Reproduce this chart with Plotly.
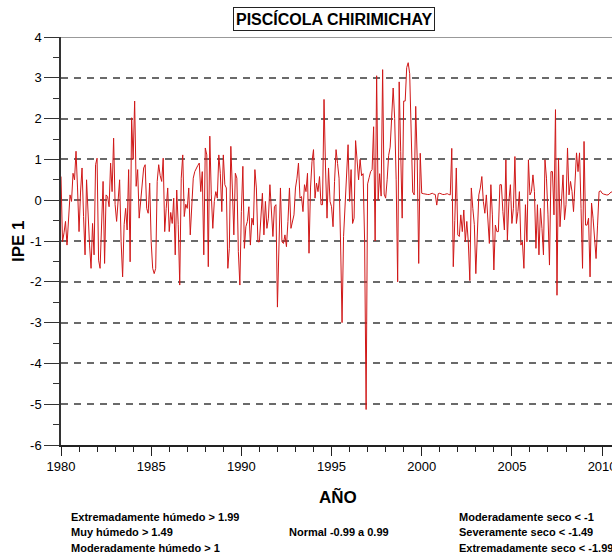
import plotly.graph_objects as go

# Monthly standardized index values, January 1980 onward
ipe_values = [
    0.58, -1.02, -0.8, -0.52, -1.10, -0.5, 0.13, -0.03, 0.66, 0.5, 1.2, 0.3,
    -0.77, 0.2, 0.79, -0.4, -1.34, 0.5, -0.5, -1.1, -1.67, -0.57, -1.34, 0.87,
    1.03, -1.47, -1.67, -0.5, 0.46, -1.55, 0.13, 0.09, -0.16, 0.91, 0.21, 1.52,
    -0.11, -0.52, 0.1, 0.5, -1.02, -1.88, -0.6, -0.2, -0.73, 0.75, -1.51, 2.02,
    1.0, 2.43, 0.34, 0.75, -0.44, -0.03, 0.4, 0.79, 0.87, -0.2, -0.32, 0.42,
    -1.02, -1.67, -1.8, -1.67, 0.46, 0.87, 0.6, 0.46, 1.03, -0.77, -0.2, 0.3,
    -0.77, -0.3, -0.57, 0.05, -1.34, 0.25, -0.6, -2.08, 0.54, 1.11, -0.4, -0.1,
    -0.2, 0.3, -0.85, -0.2, 0.54, 0.7, 0.79, 0.85, 0.91, 0.21, 0.7, -1.34,
    1.28, 1.11, -1.63, 1.57, 0.13, -0.69, -0.03, 0.21, 0.05, 1.11, 0.66, -0.28,
    1.11, 0.38, 0.3, -1.67, -1.18, 1.32, 0.3, -0.85, 0.66, 0.54, -1.26, -2.08,
    -0.28, 0.83, -1.18, -0.65, -0.52, -0.16, -1.1, -0.44, -0.61, 0.75, 0.3, -1.02,
    -1.02, -0.44, 0.17, -0.85, -0.03, -0.69, -0.44, 0.38, -0.28, -0.89, -0.16, -0.11,
    -2.62, -1.14, 0.3, -1.02, -1.06, -0.85, -1.14, -0.52, 0.3, -0.69, -0.52, -0.36,
    0.3, 0.54, 0.91, 0.05, 0.09, -0.28, 0.38, 0.21, 0.66, -1.3, 0.3, 0.95,
    1.24, 0.05, 0.42, 0.21, 0.58, -0.11, -0.11, 2.47, 0.79, -0.44, 0.79, -0.03,
    -0.16, -0.65, 0.46, 1.24, 0.9, 0.54, -1.02, -3.0, -0.89, -0.03, 0.6, 1.36,
    -0.03, 0.75, -0.57, -0.44, 1.46, 0.9, 0.5, 1.0, 0.6, 0.65, -1.0, -5.13,
    0.4, 0.55, 0.7, 0.75, 1.8, -1.0, 3.05, 0.0, 0.65, 0.1, 3.2, 0.15,
    0.05, 0.5, 1.1, 1.3, 2.2, 2.75, 2.0, 0.5, -2.0, 2.9, 1.2, -0.44,
    2.43, 2.43, 3.25, 3.37, 3.1, 1.9, 0.2, 0.13, 2.3, 1.0, -1.55, 1.15,
    0.17, 0.16, 0.15, 0.15, 0.14, 0.14, 0.15, 0.17, 0.15, 0.14, -0.12, 0.16,
    0.17, 0.15, 0.14, 0.14, 0.15, 0.16, 0.14, 0.13, 1.27, -1.63, -0.5, 0.79,
    -0.85, -0.89, -0.36, -0.77, -0.24, -1.02, -0.52, -1.02, -1.97, 0.3, -0.2, -0.6,
    -1.8, -0.89, 0.13, 0.3, 0.58, -0.03, -0.32, 0.13, -0.36, -1.06, 0.38, -0.36,
    -1.71, -0.61, -0.77, -0.77, 0.38, 0.38, -0.28, -0.73, 0.99, -0.98, -0.03, 0.38,
    -0.57, -0.2, 1.07, -0.57, -0.28, 0.21, -1.1, -1.02, -1.67, -0.11, -1.02, 0.99,
    0.13, 0.21, 0.62, 0.21, -1.18, -0.11, -1.34, -0.2, -0.69, -1.34, 0.99, 0.54,
    -0.36, -1.59, 0.7, 0.7, -0.36, 2.22, -2.33, 1.03, -0.65, 0.05, 0.62, -0.48,
    -0.11, 1.28, 0.13, 0.46, 0.21, -0.28, 0.46, 1.16, 0.7, 1.16, -0.2, -1.67,
    1.44, -0.61, -0.61, -0.44, -1.88, -0.07, -0.44, -0.85, -1.43, -0.61, 0.21, 0.23,
    0.17, 0.15, 0.13, 0.13, 0.13, 0.16, 0.2, 0.2,
]
start_year = 1980
years = [start_year + i / 12 for i in range(len(ipe_values))]

year_ticks = [1980, 1985, 1990, 1995, 2000, 2005, 2010]
ipe_ticks = [4, 3, 2, 1, 0, -1, -2, -3, -4, -5, -6]

legend_left = ["Extremadamente húmedo > 1.99", "Muy húmedo > 1.49", "Moderadamente húmedo > 1"]
legend_mid = ["Normal -0.99 a 0.99"]
legend_right = ["Moderadamente seco < -1", "Severamente seco < -1.49", "Extremadamente seco < -1.99"]

base_font = "Liberation Sans, Arial, sans-serif"
narrow_font = "Liberation Sans Narrow, Arial Narrow, Liberation Sans, sans-serif"

# Plot area in pixels
L, R, T, B = 61, 612, 37, 445
W, H = R - L, B - T


def px_x(x):
    return (x - L) / W


def px_y(y):
    return (B - y) / H


fig = go.Figure()
fig.add_trace(go.Scatter(
    x=years, y=ipe_values, mode="lines",
    line=dict(color="#d01818", width=1),
    hoverinfo="skip", showlegend=False,
))

fig.update_layout(
    width=612, height=557,
    margin=dict(l=L, r=612 - R, t=T, b=557 - B, autoexpand=False),
    paper_bgcolor="white", plot_bgcolor="white",
    font=dict(family=base_font, size=13, color="black"),
    xaxis=dict(
        range=[1980, 2010.55], tickvals=year_ticks, ticktext=[str(t) for t in year_ticks],
        showgrid=False, zeroline=False, automargin=False,
        showline=True, linecolor="#222", linewidth=1.5,
        ticks="outside", ticklen=9, tickwidth=1, tickcolor="#222",
        minor=dict(dtick=1, ticks="outside", ticklen=5, tickwidth=1, tickcolor="#222", showgrid=False),
        tickfont=dict(family=base_font, size=13),
        ticklabeloverflow="allow",
    ),
    yaxis=dict(
        range=[-6, 4], tickvals=ipe_ticks, ticktext=[str(t) for t in ipe_ticks],
        showgrid=True, gridcolor="#6a6a6a", gridwidth=1.5, griddash="7px,6px",
        zeroline=False, automargin=False,
        showline=True, linecolor="#333", linewidth=1.5,
        ticks="outside", ticklen=15, tickwidth=1, tickcolor="#333",
        minor=dict(dtick=0.5, ticks="outside", ticklen=6, tickwidth=1, tickcolor="#333", showgrid=False),
        tickfont=dict(family=base_font, size=13),
    ),
    shapes=[dict(type="line", xref="paper", yref="y", x0=0, x1=1, y0=4, y1=4,
                 line=dict(color="#777", width=1.5))],
)

# Axis titles
fig.add_annotation(xref="paper", yref="paper", x=px_x(338), y=px_y(497),
                   text="<b>AÑO</b>", showarrow=False,
                   font=dict(family=base_font, size=17, color="black"),
                   xanchor="center", yanchor="middle")
fig.add_annotation(xref="paper", yref="paper", x=px_x(18), y=px_y(241),
                   text="<b>IPE 1</b>", showarrow=False, textangle=-90,
                   font=dict(family=base_font, size=17, color="black"),
                   xanchor="center", yanchor="middle")

# Chart heading in a framed box
fig.add_annotation(
    xref="paper", yref="paper", x=px_x(334), y=px_y(19),
    text="<b>PISCÍCOLA CHIRIMICHAY</b>", showarrow=False,
    font=dict(family=base_font, size=16, color="black"),
    bordercolor="#222", borderwidth=1, borderpad=2, bgcolor="white",
    xanchor="center", yanchor="middle",
)

# Classification notes below the axis
note_font = dict(family=narrow_font, size=11, color="black")
row_y = [517, 532, 548]
for txt, py in zip(legend_left, row_y):
    fig.add_annotation(xref="paper", yref="paper", x=px_x(69), y=px_y(py),
                       text="<b>" + txt + "</b>", showarrow=False, font=note_font,
                       xanchor="left", yanchor="middle")
for txt in legend_mid:
    fig.add_annotation(xref="paper", yref="paper", x=px_x(287), y=px_y(532),
                       text="<b>" + txt + "</b>", showarrow=False, font=note_font,
                       xanchor="left", yanchor="middle")
for txt, py in zip(legend_right, row_y):
    fig.add_annotation(xref="paper", yref="paper", x=px_x(457), y=px_y(py),
                       text="<b>" + txt + "</b>", showarrow=False, font=note_font,
                       xanchor="left", yanchor="middle")

fig.write_html("out.html")
